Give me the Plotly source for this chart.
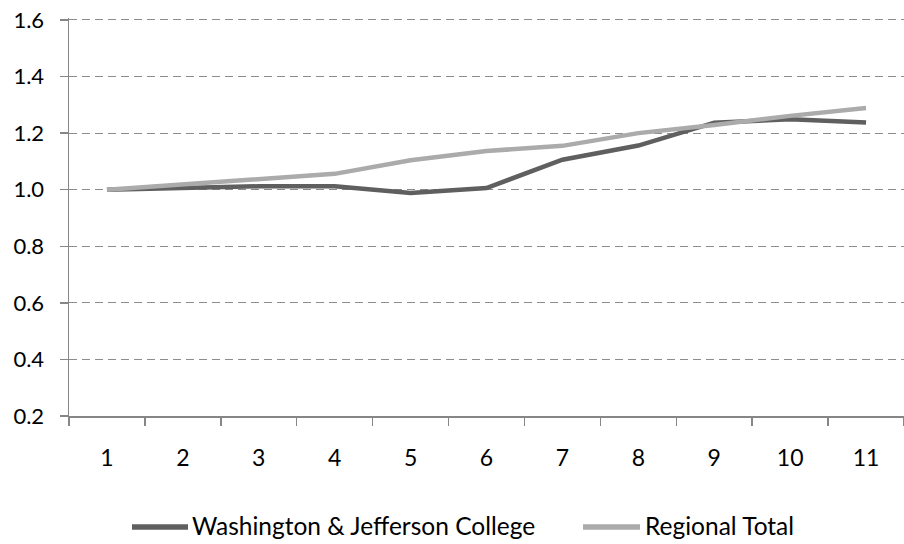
import plotly.graph_objects as go

categories = ["1", "2", "3", "4", "5", "6", "7", "8", "9", "10", "11"]
wj_college = [1.000, 1.005, 1.012, 1.012, 0.988, 1.006, 1.106, 1.156, 1.237, 1.249, 1.238]
regional_total = [1.000, 1.018, 1.036, 1.056, 1.104, 1.137, 1.155, 1.200, 1.229, 1.261, 1.289]
y_ticks = [0.2, 0.4, 0.6, 0.8, 1.0, 1.2, 1.4, 1.6]
series_names = ["Washington & Jefferson College", "Regional Total"]
series_colors = ["#5f5f5f", "#ababab"]

font_family = "Lato, 'Open Sans', sans-serif"
axis_grey = "#868686"

# page body margin is removed in the page (post_script), so page px == figure px
Y_MIN, Y_MAX = 0.2, 1.6
Y_PAD = 0.007          # small headroom so the 1.6 gridline is drawn
W, H = 904, 544
TOP_GRID, PLOT_BOTTOM = 20, 416            # pixels of 1.6 and 0.2
px_per_unit = (PLOT_BOTTOM - TOP_GRID) / (Y_MAX - Y_MIN)
ML, MR = 69, 0
MT = round(TOP_GRID - Y_PAD * px_per_unit)
MB = H - PLOT_BOTTOM
PW, PH = W - ML - MR, H - MT - MB

fig = go.Figure()
for name, vals, col in zip(series_names, [wj_college, regional_total], series_colors):
    fig.add_trace(go.Scatter(
        x=categories, y=vals, mode="lines", name=name,
        line=dict(color=col, width=4.5), showlegend=False,
    ))

# custom legend (line swatch + label), positioned in pixels
def px_x(p):
    return (p - ML) / PW

def px_y(p):
    return (PLOT_BOTTOM - p) / PH

legend_items = [(132, 188, 190), (583, 640, 643)]
for (x0, x1, tx), name, col in zip(legend_items, series_names, series_colors):
    fig.add_shape(type="line", xref="paper", yref="paper",
                  x0=px_x(x0), x1=px_x(x1), y0=px_y(527), y1=px_y(527),
                  line=dict(color=col, width=5.5))
    fig.add_annotation(xref="paper", yref="paper", x=px_x(tx), y=px_y(525),
                       text=name, showarrow=False, xanchor="left", yanchor="middle",
                       font=dict(size=24.5, family=font_family, color="#000000"))

fig.update_layout(
    width=W, height=H,
    margin=dict(l=ML, r=MR, t=MT, b=MB),
    paper_bgcolor="white", plot_bgcolor="white",
    font=dict(family=font_family, size=22, color="#000000"),
    showlegend=False,
    hovermode=False,
)
fig.update_xaxes(
    type="category", tickson="boundaries", range=[-0.5, 10.5],
    showline=True, linecolor=axis_grey, linewidth=1.5,
    ticks="outside", ticklen=8, tickcolor=axis_grey, tickwidth=1.5,
    showgrid=False, zeroline=False, ticklabelstandoff=21, automargin=False,
    tickfont=dict(size=23),
)
fig.update_yaxes(
    range=[Y_MIN, Y_MAX + Y_PAD], tickmode="array", tickvals=y_ticks,
    ticktext=[f"{v:.1f}" for v in y_ticks],
    showline=True, linecolor=axis_grey, linewidth=1.5,
    ticks="outside", ticklen=8, tickcolor=axis_grey, tickwidth=1.5,
    showgrid=True, gridcolor="#8c8c8c", gridwidth=1, griddash="8px,5px",
    zeroline=False, ticklabelstandoff=11, automargin=False,
    ticklabeloverflow="allow",
)

fig.write_html(
    "out.html",
    config={"displayModeBar": False, "staticPlot": True},
    post_script="document.body.style.margin='0';document.body.style.padding='0';",
)
